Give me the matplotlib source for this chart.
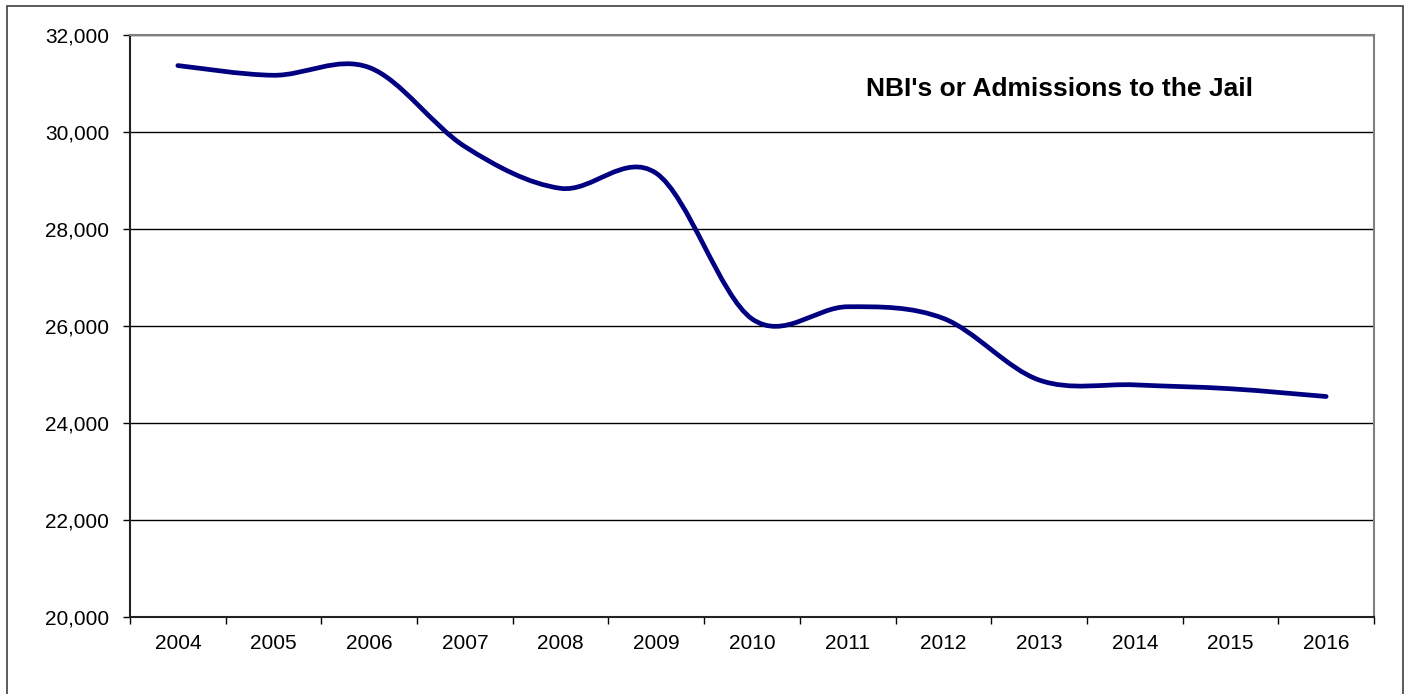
import matplotlib
matplotlib.use("Agg")
import matplotlib.pyplot as plt
from matplotlib.path import Path
from matplotlib.patches import PathPatch, Rectangle
from matplotlib.ticker import FuncFormatter, MultipleLocator, FixedLocator
import numpy as np

years = ["2004", "2005", "2006", "2007", "2008", "2009", "2010",
         "2011", "2012", "2013", "2014", "2015", "2016"]
admissions = [31370, 31170, 31330, 29700, 28840, 29150, 26150,
              26400, 26160, 24890, 24790, 24710, 24550]
title = "NBI's or Admissions to the Jail"

plt.rcParams['font.family'] = ['Liberation Sans', 'DejaVu Sans']

W, H = 1408, 694
fig = plt.figure(figsize=(W / 100, H / 100), dpi=100)
fig.patches.append(Rectangle((7 / W, -10 / H), 1396 / W, (H - 6 + 10) / H, transform=fig.transFigure,
                             fill=False, edgecolor='#404040', linewidth=1.2))
ax = fig.add_axes([130 / W, (H - 617.3) / H, (1374 - 130) / W, (617.3 - 35) / H])

x = np.arange(len(years), dtype=float)
y = np.array(admissions, dtype=float)

# Excel-style smoothed line (Catmull-Rom cubic Bezier segments through the data)
verts = [(x[0], y[0])]
codes = [Path.MOVETO]
n = len(x)
for i in range(n - 1):
    p0 = np.array([x[max(i - 1, 0)], y[max(i - 1, 0)]])
    p1 = np.array([x[i], y[i]])
    p2 = np.array([x[i + 1], y[i + 1]])
    p3 = np.array([x[min(i + 2, n - 1)], y[min(i + 2, n - 1)]])
    c1 = p1 + (p2 - p0) / 6.0
    c2 = p2 - (p3 - p1) / 6.0
    verts += [tuple(c1), tuple(c2), tuple(p2)]
    codes += [Path.CURVE4] * 3
path = Path(verts, codes)
ax.add_patch(PathPatch(path, facecolor='none', edgecolor='#000080', linewidth=3.4,
                       capstyle='round', joinstyle='round', zorder=3))

ax.set_xlim(-0.5, n - 0.5)
ax.set_ylim(20000, 32000)
ax.yaxis.set_major_locator(MultipleLocator(2000))
ax.yaxis.set_major_formatter(FuncFormatter(lambda v, p: f"{int(v):,}"))
ax.grid(axis='y', color='black', linewidth=1.0, zorder=1)

ax.xaxis.set_major_locator(FixedLocator(np.arange(-0.5, n, 1.0)))
ax.xaxis.set_minor_locator(FixedLocator(x))
ax.set_xticklabels([])
ax.set_xticklabels(years, minor=True)
ax.tick_params(axis='x', which='major', length=5, width=1.0, color='black', direction='out')
ax.tick_params(axis='x', which='minor', length=0, labelsize=15, pad=12)
ax.tick_params(axis='y', which='major', length=5, width=1.0, color='black', labelsize=15, pad=10)

for s in ['top', 'right']:
    ax.spines[s].set_color('#808080')
    ax.spines[s].set_linewidth(1.5)
for s in ['left', 'bottom']:
    ax.spines[s].set_color('#222222')
    ax.spines[s].set_linewidth(1.5)

fig.text(1060 / W, (H - 89) / H, title, fontsize=19, fontweight='bold',
         ha='center', va='center')

fig.savefig("out.png", dpi=100)
